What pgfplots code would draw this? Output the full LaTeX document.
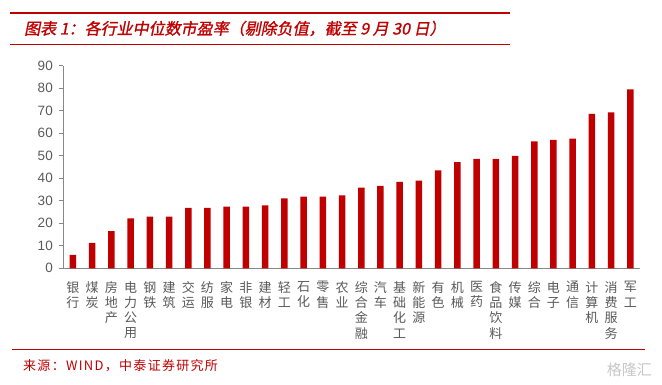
\documentclass[border=0pt]{standalone}
\usepackage{pgfplots}
\pgfplotsset{compat=1.18}
\usepackage{fontspec}
\setmainfont{Liberation Sans}
\newfontfamily\cjk{Noto Sans CJK SC}
\newfontfamily\cjksrc[LetterSpace=10]{Noto Sans CJK SC}
\newfontfamily\cjktitle[FakeSlant=0.2,FakeBold=1.2]{Noto Sans CJK SC}
\definecolor{barred}{HTML}{C00000}
\definecolor{axgray}{HTML}{888888}
\definecolor{txtgray}{HTML}{595959}
\pgfplotstableread{
x y
1 6.0
2 11.3
3 16.5
4 22.2
5 22.9
6 22.9
7 26.8
8 26.8
9 27.4
10 27.4
11 28.0
12 31.1
13 31.8
14 31.8
15 32.4
16 35.8
17 36.6
18 38.4
19 38.9
20 43.5
21 47.2
22 48.6
23 48.6
24 49.9
25 56.4
26 57.0
27 57.6
28 68.6
29 69.3
30 79.5
}\petable
\begin{document}
\begin{tikzpicture}
\path (0pt,0pt) rectangle (662pt,385pt);
\draw[barred, line width=1.6pt] (10pt,372pt) -- (510pt,372pt);
\node[anchor=west, text=barred, inner sep=0pt, font=\cjktitle\fontsize{16}{18}\selectfont] at (24pt,356.5pt) {图表 1：各行业中位数市盈率（剔除负值，截至 9 月 30 日）};
\draw[barred, line width=0.6pt] (10pt,341pt) -- (510pt,341pt);
\begin{axis}[
  at={(63.3pt,116.7pt)}, anchor=south west,
  scale only axis, width=576.7pt, height=202.6pt,
  xmin=0.5, xmax=30.5, ymin=0, ymax=90,
  ybar, bar width=6.5pt,
  axis x line*=bottom, axis y line*=left,
  axis line style={axgray, line width=0.8pt},
  every tick/.style={axgray, line width=0.8pt},
  tick align=outside,
  ytick={0,10,...,90},
  major tick length=4pt,
  xtick={1,...,30},
  x tick style={draw=none},
  minor xtick={0.5,1.5,...,30.5},
  minor tick length=4pt,
  minor x tick style={axgray, line width=0.8pt},
  yticklabel style={font=\fontsize{13.5}{15}\selectfont, text=txtgray, xshift=-3pt},
  /pgf/number format/assume math mode=true,
  xticklabel style={font=\cjk\fontsize{13}{15.2}\selectfont, text=txtgray, align=center, anchor=north, inner sep=0pt, yshift=-9pt},
  xticklabels={{银\\行},{煤\\炭},{房\\地\\产},{电\\力\\公\\用},{钢\\铁},{建\\筑},{交\\运},{纺\\服},{家\\电},{非\\银},{建\\材},{轻\\工},{石\\化},{零\\售},{农\\业},{综\\合\\金\\融},{汽\\车},{基\\础\\化\\工},{新\\能\\源},{有\\色},{机\\械},{医\\药},{食\\品\\饮\\料},{传\\媒},{综\\合},{电\\子},{通\\信},{计\\算\\机},{消\\费\\服\\务},{军\\工}},
]
\addplot[fill=barred, draw=none] table[x=x, y=y] {\petable};
\end{axis}
\draw[barred, line width=0.7pt] (12pt,36pt) -- (645pt,36pt);
\node[anchor=west, text=barred, inner sep=0pt, font=\cjksrc\fontsize{13}{14}\selectfont] at (23pt,19pt) {来源：WIND，中泰证券研究所};
\node[anchor=east, text=gray!45, inner sep=0pt, font=\cjk\fontsize{15}{16}\selectfont] at (652pt,15pt) {格隆汇};
\end{tikzpicture}
\end{document}
